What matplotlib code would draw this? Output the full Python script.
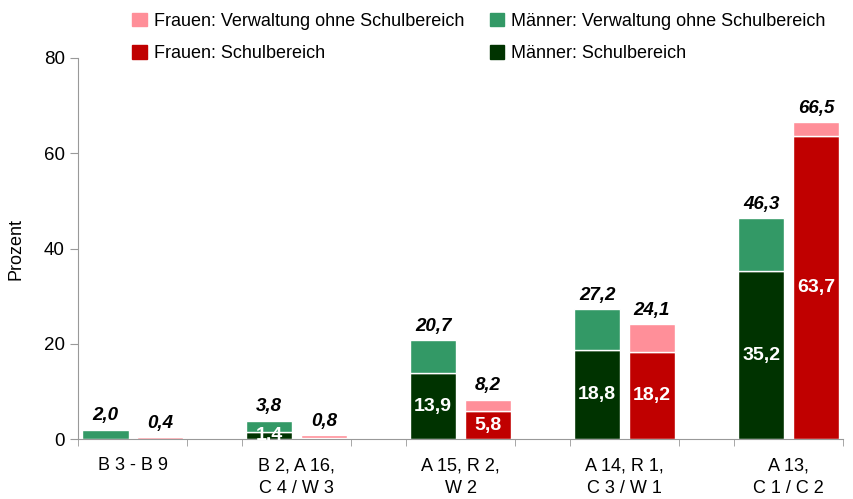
import numpy as np
import matplotlib.pyplot as plt

plt.rcParams['font.family'] = ['Liberation Sans', 'DejaVu Sans']

groups = ['B 3 - B 9', 'B 2, A 16,\nC 4 / W 3', 'A 15, R 2,\nW 2',
          'A 14, R 1,\nC 3 / W 1', 'A 13,\nC 1 / C 2']
men_school = [0.0, 1.4, 13.9, 18.8, 35.2]
men_total = [2.0, 3.8, 20.7, 27.2, 46.3]
women_school = [0.0, 0.3, 5.8, 18.2, 63.7]
women_total = [0.4, 0.8, 8.2, 24.1, 66.5]

c_pink = '#ff8f99'
c_green = '#339966'
c_dkgreen = '#003300'
c_red = '#c00000'


def fmt(v):
    return ('%.1f' % v).replace('.', ',')


men_school = np.array(men_school)
men_total = np.array(men_total)
women_school = np.array(women_school)
women_total = np.array(women_total)

x_men = np.arange(len(groups)) * 3
x_women = x_men + 1
w = 0.85

fig = plt.figure(figsize=(8.54, 4.99), dpi=100)
ax = fig.add_axes([0.0913, 0.12, 0.896, 0.764])

ax.bar(x_men, men_school, w, color=c_dkgreen, edgecolor='white', linewidth=1)
ax.bar(x_men, men_total - men_school, w, bottom=men_school, color=c_green,
       edgecolor='white', linewidth=1)
ax.bar(x_women, women_school, w, color=c_red, edgecolor='white', linewidth=1)
ax.bar(x_women, women_total - women_school, w, bottom=women_school, color=c_pink,
       edgecolor='white', linewidth=1)

# totals on top
for xs, tot in ((x_men, men_total), (x_women, women_total)):
    for xi, t in zip(xs, tot):
        ax.annotate(fmt(t), (xi, t), xytext=(0, 4), textcoords='offset points',
                    ha='center', va='bottom', fontsize=13.5, fontweight='bold',
                    fontstyle='italic')

# values inside school segments
for xs, sch in ((x_men, men_school), (x_women, women_school)):
    for xi, s in zip(xs, sch):
        if s >= 1:
            ax.text(xi, s / 2, fmt(s), ha='center', va='center', color='white',
                    fontsize=14, fontweight='bold')

ax.set_xlim(-0.5, 13.5)
ax.set_ylim(0, 80)
ax.set_yticks([0, 20, 40, 60, 80])
ax.set_xticks(x_men + 0.5)
ax.set_xticklabels(groups, fontsize=13, linespacing=1.45)
ax.set_xticks(np.arange(-0.5, 14, 1), minor=True)
ax.tick_params(axis='x', which='major', length=0, pad=13)
ax.tick_params(axis='x', which='minor', length=5, color='#999999')
ax.tick_params(axis='y', labelsize=13.5, length=6, color='#999999')
ax.set_ylabel('Prozent', fontsize=13)
ax.yaxis.set_label_coords(-0.07, 0.5)
for s in ('top', 'right'):
    ax.spines[s].set_visible(False)
for s in ('left', 'bottom'):
    ax.spines[s].set_color('#999999')

h = [plt.Rectangle((0, 0), 1, 1, color=c) for c in (c_pink, c_red, c_green, c_dkgreen)]
labels = ['Frauen: Verwaltung ohne Schulbereich', 'Frauen: Schulbereich',
          'Männer: Verwaltung ohne Schulbereich', 'Männer: Schulbereich']
fig.legend(h, labels, loc='upper left', bbox_to_anchor=(0.14, 1.0), ncol=2,
           frameon=False, fontsize=13, handlelength=0.8, handleheight=0.8,
           handletextpad=0.4, columnspacing=1.4, labelspacing=0.85,
           borderaxespad=0.3)

fig.savefig('out.png', dpi=100)
